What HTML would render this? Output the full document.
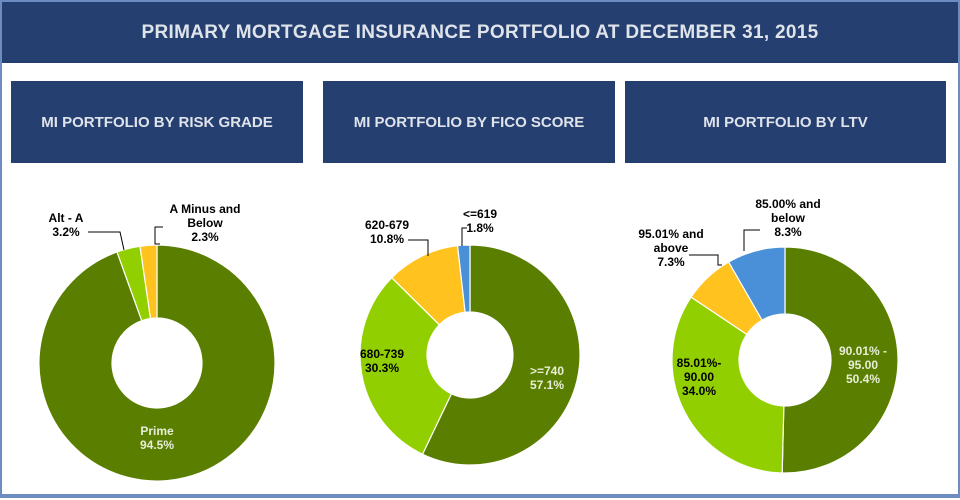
<!DOCTYPE html>
<html><head><meta charset="utf-8"><style>
body{margin:0;width:960px;height:500px;background:#fff;overflow:hidden;font-family:"Liberation Sans",sans-serif}
#frame{position:absolute;left:0;top:0;width:956px;height:492px;border:2px solid #6d8cc0;border-bottom-width:4px}
.banner{position:absolute;background:#253f70;color:#dfe3ea;font-weight:bold;display:flex;align-items:center;justify-content:center}
svg{position:absolute;left:0;top:0}
</style></head><body>
<div id="frame"></div>
<div class="banner" style="left:2px;top:2px;width:956px;height:61px;font-size:19px;letter-spacing:0.3px">PRIMARY MORTGAGE INSURANCE PORTFOLIO AT DECEMBER 31, 2015</div>
<div class="banner" style="left:11px;top:81px;width:292px;height:82px;font-size:15px">MI PORTFOLIO BY RISK GRADE</div>
<div class="banner" style="left:323px;top:81px;width:292px;height:82px;font-size:15px">MI PORTFOLIO BY FICO SCORE</div>
<div class="banner" style="left:625px;top:81px;width:321px;height:82px;font-size:15px">MI PORTFOLIO BY LTV</div>
<svg id="s" width="960" height="500"></svg>
<script>
const riskCats=["Prime","Alt - A","A Minus and Below"];
const riskVals=[94.5,3.2,2.3];
const ficoCats=[">=740","680-739","620-679","<=619"];
const ficoVals=[57.1,30.3,10.8,1.8];
const ltvCats=["90.01% - 95.00","85.01%- 90.00","95.01% and above","85.00% and below"];
const ltvVals=[50.4,34.0,7.3,8.3];
const colors=["#5a7f00","#92cf00","#ffc21f","#4a90d8"];
const NS="http://www.w3.org/2000/svg";
const s=document.getElementById('s');
function el(t,a){const e=document.createElementNS(NS,t);for(const k in a)e.setAttribute(k,a[k]);s.appendChild(e);return e;}
function donut(name,vals,cx,cy,r,ri,cols){
  const tot=vals.reduce((a,b)=>a+b,0);let a0=0;
  vals.forEach((v,i)=>{
    const a1=a0+v/tot*2*Math.PI;
    const p=(a,rr)=>[cx+rr*Math.sin(a),cy-rr*Math.cos(a)];
    const [x0,y0]=p(a0,r),[x1,y1]=p(a1,r),[x2,y2]=p(a1,ri),[x3,y3]=p(a0,ri);
    const lg=(a1-a0)>Math.PI?1:0;
    const path=el('path',{d:`M${x0},${y0}A${r},${r} 0 ${lg} 1 ${x1},${y1}L${x2},${y2}A${ri},${ri} 0 ${lg} 0 ${x3},${y3}Z`,fill:cols[i],stroke:'#fff','stroke-width':1.2});
    
    
    a0=a1;
  });
}
function label(name,lines,x,y,fill){
  const t=el('text',{x:x,y:y,'font-size':12,'font-weight':'bold',fill:fill,'text-anchor':'middle'});
  
  
  lines.forEach((l,i)=>{const ts=document.createElementNS(NS,'tspan');ts.setAttribute('x',x);ts.setAttribute('dy',i?14:0);ts.textContent=l;t.appendChild(ts);});
}
function leader(name,pts){const p=el('polyline',{points:pts,fill:'none',stroke:'#000','stroke-width':1});}
donut('risk',riskVals,157,363,118,45,colors);
donut('fico',ficoVals,470,355,110,43,colors);
donut('ltv',ltvVals,785,360,113,46,colors);
label('label-prime',[riskCats[0],riskVals[0].toFixed(1)+'%'],157,435,'#e8eed8');
label('label-alt-a',[riskCats[1],riskVals[1].toFixed(1)+'%'],66,222,'#000');
leader('leader-alt-a','88,232 120,232 124,250');
label('label-a-minus',['A Minus and','Below',riskVals[2].toFixed(1)+'%'],205,213,'#000');
leader('leader-a-minus','160,244 155,244 155,227 163,227');
label('label-740',[ficoCats[0],ficoVals[0].toFixed(1)+'%'],547,375,'#e8eed8');
label('label-680',[ficoCats[1],ficoVals[1].toFixed(1)+'%'],382,358,'#000');
label('label-620',[ficoCats[2],ficoVals[2].toFixed(1)+'%'],387,229,'#000');
leader('leader-620','408,240 428,240 428,256');
label('label-619',[ficoCats[3],ficoVals[3].toFixed(1)+'%'],480,218,'#000');
leader('leader-619','462,246 462,228 467,228');
label('label-ltv-90',['90.01%  -','95.00',ltvVals[0].toFixed(1)+'%'],863,355,'#e8eed8');
label('label-ltv-85',['85.01%-','90.00',ltvVals[1].toFixed(1)+'%'],699,367,'#000');
label('label-ltv-95',['95.01%  and','above',ltvVals[2].toFixed(1)+'%'],671,238,'#000');
leader('leader-ltv-95','689,255 718,255 718,265 722,265');
label('label-ltv-below',['85.00%  and','below',ltvVals[3].toFixed(1)+'%'],788,208,'#000');
leader('leader-ltv-below','744,251 744,230 760,230');
</script>
</body></html>
